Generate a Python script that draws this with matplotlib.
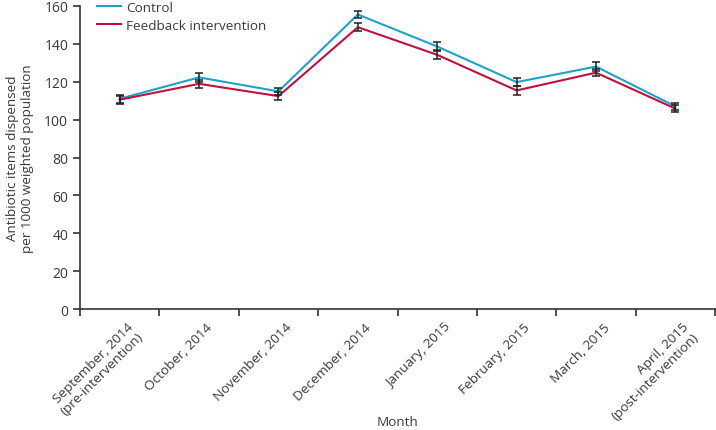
import matplotlib
matplotlib.use("Agg")
import matplotlib.pyplot as plt
import numpy as np

months = ["September, 2014\n(pre-intervention)", "October, 2014", "November, 2014",
          "December, 2014", "January, 2015", "February, 2015", "March, 2015",
          "April, 2015\n(post-intervention)"]
control = [111.0, 122.3, 114.9, 155.5, 138.6, 119.8, 128.0, 107.0]
control_err = [2.0, 2.2, 2.0, 2.0, 2.2, 2.2, 2.2, 1.8]
feedback = [110.5, 118.9, 112.4, 148.8, 134.2, 115.4, 124.8, 105.8]
feedback_err = [2.0, 2.2, 2.0, 2.0, 2.4, 2.2, 2.0, 1.8]
yticks = [0, 20, 40, 60, 80, 100, 120, 140, 160]

plt.rcParams['font.family'] = ['Open Sans', 'DejaVu Sans']
txt = '#3a3a3a'
fs = 9.7
fig = plt.figure(figsize=(7.16, 4.31), dpi=100)
ax = fig.add_axes([0.1117, 0.2807, 0.887, 0.7031])

x = np.arange(len(months))
ax.plot(x, control, color='#1ba3c9', lw=1.5, label='Control', zorder=3)
ax.plot(x, feedback, color='#c0103f', lw=1.5, label='Feedback intervention', zorder=3)
ax.errorbar(x, control, yerr=control_err, fmt='none', ecolor='#222222', elinewidth=1.1, capsize=3, capthick=1.1, zorder=4)
ax.errorbar(x, feedback, yerr=feedback_err, fmt='none', ecolor='#222222', elinewidth=1.1, capsize=3, capthick=1.1, zorder=4)

ax.set_xlim(-0.5, len(months) - 0.5)
ax.set_ylim(0, 160)
ax.set_yticks(yticks)
ax.set_yticklabels([str(v) for v in yticks], fontsize=10, color=txt)
ax.set_xticks(np.arange(len(months) + 1) - 0.5)
ax.set_xticklabels([])
ax.set_xticks(x, minor=True)
ax.set_xticklabels(months, minor=True, rotation=45, ha='right', rotation_mode='anchor',
                   fontsize=fs, color=txt, linespacing=1.05)
ax.tick_params(axis='x', which='minor', length=0, pad=8)
ax.tick_params(axis='both', which='major', length=5, width=1.2, color='#333333', direction='out')
for lbl in ax.get_xticklabels(minor=True):
    lbl.set_transform(lbl.get_transform() + matplotlib.transforms.ScaledTranslation(0.07, 0, fig.dpi_scale_trans))

for s in ['top', 'right']:
    ax.spines[s].set_visible(False)
for s in ['left', 'bottom']:
    ax.spines[s].set_linewidth(1.2)
    ax.spines[s].set_color('#333333')

ax.set_ylabel('Antibiotic items dispensed\nper 1000 weighted population', fontsize=fs, color=txt, labelpad=7)
fig.text(397 / 716, 1 - 423 / 431, 'Month', fontsize=fs, color=txt, ha='center', va='center')

leg = ax.legend(loc='upper left', frameon=False, fontsize=fs, handlelength=1.8, handletextpad=0.4,
                borderaxespad=0.0, labelspacing=0.4, bbox_to_anchor=(0.018, 1.035))
for t in leg.get_texts():
    t.set_color(txt)

fig.savefig('out.png', dpi=100)
